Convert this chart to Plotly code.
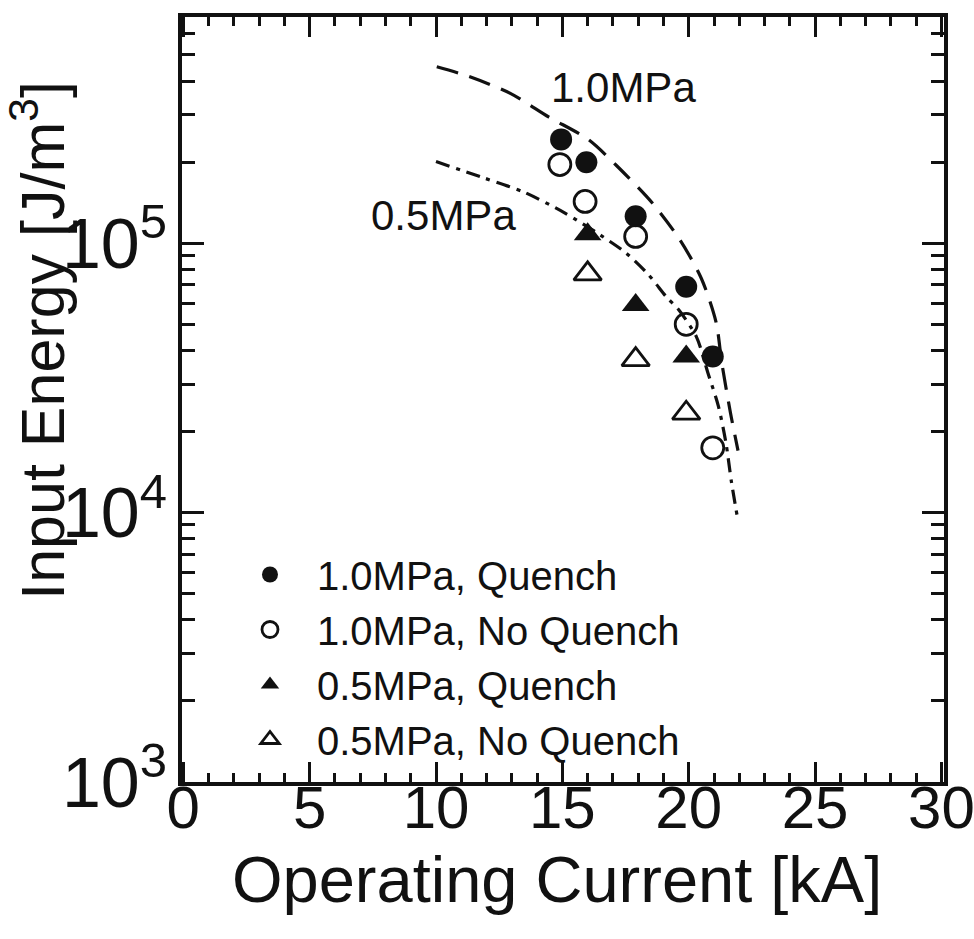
import plotly.graph_objects as go

# ---- data ----
q10_x = [14.95, 15.95, 17.9, 19.9, 20.95]
q10_y = [2.43e5, 2.0e5, 1.26e5, 6.9e4, 3.8e4]

nq10_x = [14.9, 15.9, 17.9, 19.9, 20.95]
nq10_y = [1.96e5, 1.43e5, 1.06e5, 5.0e4, 1.74e4]

q05_x = [16.0, 17.9, 19.9]
q05_y = [1.08e5, 5.9e4, 3.8e4]

nq05_x = [16.0, 17.9, 19.9]
nq05_y = [7.7e4, 3.7e4, 2.34e4]

curve10_x = [10.03, 11.27, 12.94, 14.47, 16.02, 17.15, 18.56, 19.65, 20.5, 21.08, 21.31, 21.65, 21.95]
curve10_y = [4.52e5, 4.17e5, 3.6e5, 2.94e5, 2.43e5, 1.94e5, 1.41e5, 1.03e5, 7.4e4, 5.1e4, 3.59e4, 2.35e4, 1.70e4]

curve05_x = [10.0, 11.88, 13.47, 15.07, 16.52, 17.52, 18.4, 19.13, 19.61, 20.3, 20.76, 21.17, 21.47, 21.69, 21.91]
curve05_y = [2.01e5, 1.75e5, 1.55e5, 1.30e5, 1.07e5, 9.2e4, 7.66e4, 6.3e4, 5.65e4, 4.5e4, 3.3e4, 2.49e4, 1.82e4, 1.30e4, 9.8e3]

legend_names = ["1.0MPa, Quench", "1.0MPa, No Quench", "0.5MPa, Quench", "0.5MPa, No Quench"]
curve_labels = ["1.0MPa", "0.5MPa"]
x_title = "Operating Current [kA]"
y_title = "Input Energy [J/m<sup>3</sup>]"

FONT = "Liberation Sans, Arial, Helvetica, sans-serif"
BLACK = "#111111"

fig = go.Figure()

fig.add_trace(go.Scatter(x=curve10_x, y=curve10_y, mode="lines",
                         line=dict(color=BLACK, width=3.2, dash="22px,12px", shape="spline", smoothing=0.8),
                         showlegend=False))
fig.add_trace(go.Scatter(x=curve05_x, y=curve05_y, mode="lines",
                         line=dict(color=BLACK, width=3.2, dash="14px,7px,4px,7px", shape="spline", smoothing=0.8),
                         showlegend=False))

fig.add_trace(go.Scatter(x=q10_x, y=q10_y, mode="markers", name=legend_names[0], legendgroup="a",
                         marker=dict(symbol="circle", size=22, color=BLACK, line=dict(width=0))))
fig.add_trace(go.Scatter(x=nq10_x, y=nq10_y, mode="markers", name=legend_names[1], legendgroup="b",
                         marker=dict(symbol="circle-open", size=22, color=BLACK, line=dict(width=2.8))))
fig.add_trace(go.Scatter(x=q05_x, y=q05_y, mode="markers", name=legend_names[2], legendgroup="c",
                         marker=dict(symbol="triangle-up", size=24, color=BLACK, line=dict(width=0))))
fig.add_trace(go.Scatter(x=nq05_x, y=nq05_y, mode="markers", name=legend_names[3], legendgroup="d",
                         marker=dict(symbol="triangle-up-open", size=24, color=BLACK, line=dict(width=2.8))))

fig.add_annotation(x=17.4, y=5.579, text=curve_labels[0], showarrow=False,
                   font=dict(family=FONT, size=42, color=BLACK))
fig.add_annotation(x=10.3, y=5.102, text=curve_labels[1], showarrow=False,
                   font=dict(family=FONT, size=42, color=BLACK))

# axis titles placed as annotations for precise positioning
fig.add_annotation(xref="paper", yref="paper", x=-0.189, y=0.578, text=y_title, textangle=-90,
                   showarrow=False, xanchor="center", yanchor="middle",
                   font=dict(family=FONT, size=61, color=BLACK))
fig.add_annotation(xref="paper", yref="paper", x=0.492, y=-0.128, text=x_title,
                   showarrow=False, xanchor="center", yanchor="middle",
                   font=dict(family=FONT, size=65, color=BLACK))

fig.update_xaxes(range=[-0.05, 30.1], tickvals=[0, 5, 10, 15, 20, 25, 30], ticks="inside", ticklen=20, tickwidth=3,
                 tickcolor=BLACK, showline=True, linewidth=3.5, linecolor=BLACK, mirror="ticks",
                 showgrid=False, zeroline=False, ticklabeloverflow="allow", automargin=False,
                 ticklabelstandoff=-30,
                 tickfont=dict(family=FONT, size=60, color=BLACK),
                 minor=dict(dtick=1, tick0=0, ticks="inside", ticklen=9, tickwidth=2.5, tickcolor=BLACK, showgrid=False))
fig.update_yaxes(type="log", range=[3, 5.84], dtick=1, exponentformat="power", showexponent="all",
                 ticks="inside", ticklen=22, tickwidth=3,
                 tickcolor=BLACK, showline=True, linewidth=3.5, linecolor=BLACK, mirror="ticks",
                 showgrid=False, zeroline=False, ticklabeloverflow="allow", automargin=False,
                 tickfont=dict(family=FONT, size=56, color=BLACK),
                 minor=dict(dtick="D1", ticks="inside", ticklen=13, tickwidth=2.5, tickcolor=BLACK, showgrid=False))

fig.update_layout(
    width=974, height=939,
    margin=dict(l=182, r=30, t=17, b=157, autoexpand=False),
    paper_bgcolor="white", plot_bgcolor="white",
    legend=dict(x=0.0538, y=0.3137, xanchor="left", yanchor="top", bgcolor="rgba(0,0,0,0)",
                font=dict(family=FONT, size=40, color=BLACK), traceorder="grouped",
                tracegroupgap=0, itemwidth=84),
)

fig.write_html("out.html")
